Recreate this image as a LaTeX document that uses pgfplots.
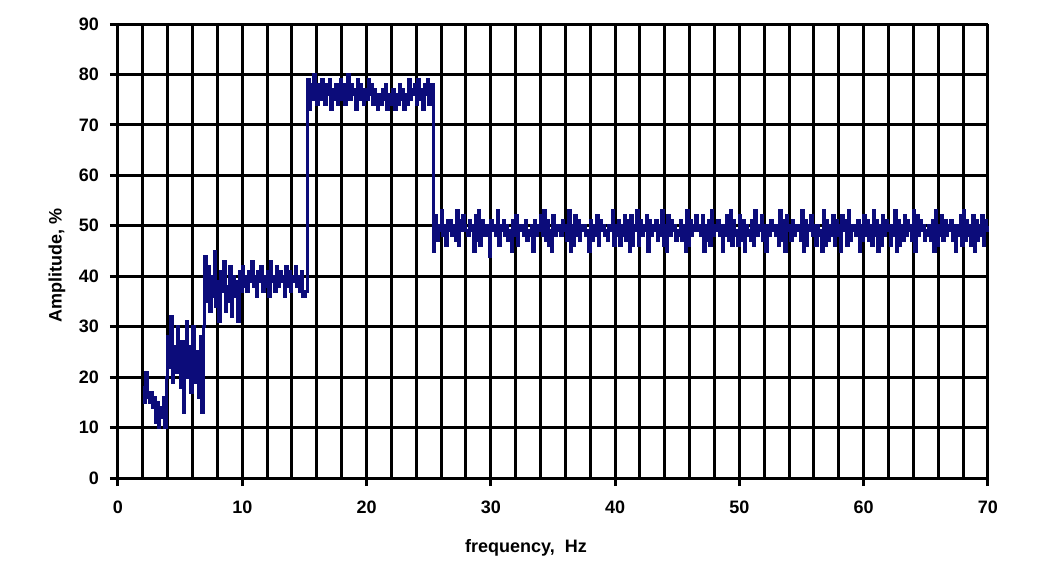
\documentclass[border=0pt]{standalone}
\usepackage{pgfplots}
\pgfplotsset{compat=1.18}
\usepackage{pgfplotstable}
\usepackage{fontspec}
\setmainfont{Liberation Sans}
\definecolor{navyline}{RGB}{12,12,122}

\pgfplotstableread[row sep=\\]{
y\\
18\\ 15\\ 21\\ 16\\ 15\\ 17\\ 14\\ 16\\ 11\\ 15\\ 10\\ 14\\ 12\\ 16\\ 10\\ 20\\
28\\ 22\\ 32\\ 19\\ 26\\ 21\\ 30\\ 24\\ 18\\ 27\\ 13\\ 23\\ 31\\ 20\\ 26\\ 17\\ 30\\ 22\\ 19\\ 25\\ 16\\ 28\\ 13\\ 30\\
44\\ 35\\ 42\\ 33\\ 40\\ 36\\ 45\\ 34\\ 39\\ 31\\ 41\\ 37\\ 43\\ 33\\ 38\\ 35\\ 42\\ 32\\ 40\\ 36\\ 39\\ 31\\ 41\\ 37\\
42\\ 38\\ 40\\ 37\\ 41\\ 39\\ 43\\ 38\\ 40\\ 36\\ 41\\ 39\\ 42\\ 37\\ 40\\ 38\\ 41\\ 36\\ 43\\ 39\\
40\\ 37\\ 42\\ 38\\ 41\\ 39\\ 40\\ 36\\ 42\\ 38\\ 41\\ 37\\ 40\\ 39\\ 42\\ 38\\ 40\\ 37\\ 41\\ 36\\
36\\ 37\\
79\\ 73\\ 78\\ 75\\ 80\\ 76\\ 74\\ 78\\ 75\\ 79\\
77\\ 74\\ 78\\ 76\\ 79\\ 73\\ 77\\ 75\\ 78\\ 74\\
76\\ 79\\ 75\\ 78\\ 74\\ 77\\ 80\\ 75\\ 78\\ 76\\
77\\ 73\\ 79\\ 75\\ 78\\ 76\\ 74\\ 77\\ 75\\ 79\\
76\\ 78\\ 74\\ 77\\ 75\\ 73\\ 76\\ 74\\ 77\\ 75\\
78\\ 73\\ 76\\ 74\\ 75\\ 77\\ 73\\ 76\\ 74\\ 78\\
75\\ 77\\ 73\\ 76\\ 74\\ 79\\ 75\\ 77\\ 76\\ 78\\
74\\ 79\\ 75\\ 77\\ 73\\ 78\\ 76\\ 79\\ 74\\ 78\\
78\\
45\\ 52\\ 47\\ 50\\ 49\\ 53\\ 48\\ 50\\ 46\\ 51\\
49\\ 51\\ 48\\ 50\\ 47\\ 53\\ 46\\ 51\\ 49\\ 52\\
50\\ 49\\ 48\\ 51\\ 49\\ 50\\ 45\\ 52\\ 47\\ 53\\
46\\ 51\\ 48\\ 49\\ 50\\ 48\\ 44\\ 51\\ 49\\ 50\\
48\\ 53\\ 46\\ 50\\ 49\\ 51\\ 48\\ 50\\ 47\\ 49\\
45\\ 51\\ 48\\ 52\\ 46\\ 50\\ 49\\ 50\\ 48\\ 51\\
47\\ 49\\ 48\\ 50\\ 45\\ 51\\ 48\\ 50\\ 49\\ 52\\
48\\ 53\\ 47\\ 51\\ 46\\ 49\\ 45\\ 52\\ 48\\ 50\\
49\\ 50\\ 48\\ 51\\ 49\\ 50\\ 47\\ 53\\ 45\\ 50\\
46\\ 52\\ 48\\ 51\\ 47\\ 50\\ 49\\ 50\\ 48\\ 49\\
45\\ 51\\ 47\\ 50\\ 48\\ 52\\ 46\\ 51\\ 49\\ 50\\
48\\ 49\\ 47\\ 50\\ 49\\ 53\\ 46\\ 50\\ 48\\ 51\\
46\\ 50\\ 48\\ 52\\ 47\\ 51\\ 45\\ 52\\ 46\\ 50\\
49\\ 53\\ 46\\ 51\\ 48\\ 50\\ 49\\ 52\\ 45\\ 51\\
48\\ 50\\ 49\\ 51\\ 47\\ 50\\ 48\\ 53\\ 46\\ 50\\
45\\ 52\\ 48\\ 51\\ 49\\ 50\\ 47\\ 49\\ 48\\ 51\\
47\\ 50\\ 45\\ 53\\ 46\\ 51\\ 48\\ 50\\ 49\\ 52\\
49\\ 50\\ 48\\ 52\\ 45\\ 50\\ 47\\ 51\\ 46\\ 53\\
48\\ 50\\ 49\\ 51\\ 48\\ 50\\ 45\\ 50\\ 48\\ 52\\
47\\ 53\\ 46\\ 51\\ 48\\ 49\\ 46\\ 52\\ 47\\ 51\\
45\\ 50\\ 48\\ 49\\ 47\\ 51\\ 46\\ 53\\ 48\\ 50\\
49\\ 52\\ 47\\ 50\\ 45\\ 50\\ 48\\ 51\\ 49\\ 50\\
48\\ 50\\ 46\\ 53\\ 47\\ 51\\ 45\\ 52\\ 49\\ 50\\
47\\ 51\\ 48\\ 50\\ 49\\ 50\\ 47\\ 53\\ 45\\ 51\\
46\\ 50\\ 49\\ 52\\ 48\\ 50\\ 46\\ 50\\ 48\\ 49\\
45\\ 53\\ 46\\ 51\\ 47\\ 50\\ 48\\ 52\\ 46\\ 51\\
48\\ 50\\ 45\\ 52\\ 49\\ 51\\ 46\\ 53\\ 47\\ 50\\
49\\ 50\\ 48\\ 51\\ 45\\ 50\\ 47\\ 52\\ 48\\ 51\\
47\\ 50\\ 46\\ 53\\ 48\\ 51\\ 45\\ 50\\ 46\\ 52\\
48\\ 51\\ 49\\ 50\\ 46\\ 50\\ 48\\ 53\\ 45\\ 51\\
46\\ 50\\ 47\\ 52\\ 48\\ 51\\ 49\\ 50\\ 47\\ 53\\
45\\ 52\\ 48\\ 51\\ 49\\ 50\\ 47\\ 49\\ 48\\ 50\\
47\\ 51\\ 45\\ 53\\ 46\\ 50\\ 48\\ 52\\ 47\\ 51\\
48\\ 50\\ 49\\ 51\\ 47\\ 50\\ 45\\ 50\\ 48\\ 52\\
46\\ 53\\ 47\\ 51\\ 48\\ 50\\ 46\\ 52\\ 45\\ 51\\
47\\ 50\\ 48\\ 52\\ 46\\ 51\\ 49\\ 50\\
}\data

\begin{document}
\begin{tikzpicture}
\begin{axis}[
  scale only axis, width=435pt, height=227pt,
  xmin=0, xmax=70, ymin=0, ymax=90,
  xtick={0,10,...,70}, ytick={0,10,...,90},
  minor x tick num=4,
  grid=both,
  major grid style={black, line width=1.5pt},
  minor grid style={black, line width=1.5pt},
  axis lines*=left,
  axis line style={black, line width=1.5pt},
  tick style={black, line width=1.5pt},
  major tick length=4pt, minor tick length=0pt,
  tick align=outside,
  /pgf/number format/assume math mode=true,
  ticklabel style={font=\fontsize{9}{10}\selectfont\bfseries},
  xticklabel style={yshift=-4pt},
  yticklabel style={xshift=-2pt},
  xlabel={frequency,\ \ Hz}, ylabel={Amplitude, \%},
  label style={font=\fontsize{9}{10}\selectfont\bfseries},
  xlabel style={at={(rel axis cs:0.469,-0.154)}, anchor=center},
  ylabel style={at={(rel axis cs:-0.0701,0.469)}, anchor=center},
  clip=false,
]
\addplot[const plot, navyline, line width=1.5pt] table[x expr=2+0.125*\coordindex, y=y] {\data};
\path (rel axis cs:-0.1356,-0.2159) rectangle (rel axis cs:1.0575,1.0529);
\end{axis}
\end{tikzpicture}
\end{document}
